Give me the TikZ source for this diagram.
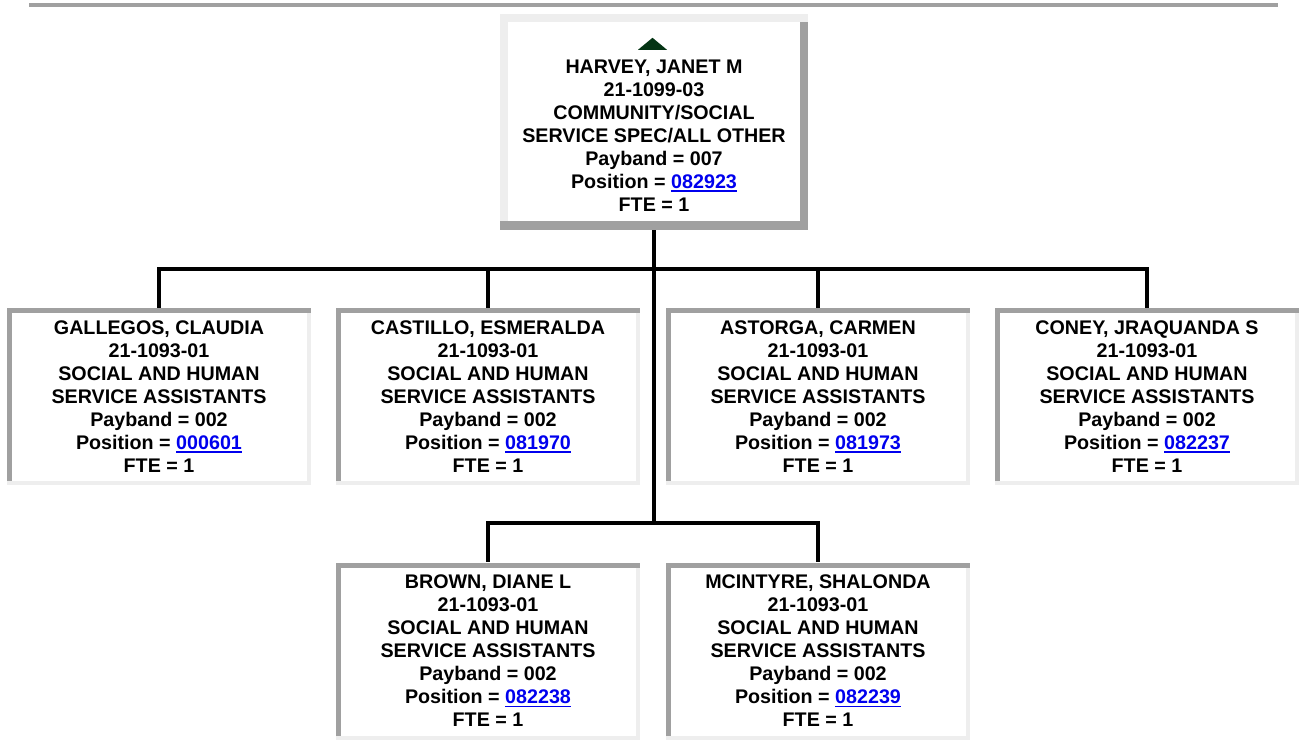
\documentclass[tikz,border=0pt]{standalone}
\usepackage{fontspec}
\setmainfont{Liberation Sans}
\usepackage{tikz}
\usetikzlibrary{calc}
\usepackage{xcolor}
\definecolor{edgedark}{RGB}{160,160,160}
\definecolor{edgelite}{RGB}{238,238,238}
\definecolor{linkblue}{RGB}{0,0,238}
\definecolor{uparrow}{RGB}{4,52,20}

\newcommand\orgfont{\bfseries\fontsize{19.7}{23}\selectfont}
\newsavebox\linkbox
\newcommand\poslink[1]{\sbox\linkbox{\color{linkblue}#1}\textcolor{linkblue}{\rlap{\rule[-3.5pt]{\wd\linkbox}{1.8pt}}\usebox\linkbox}}

\tikzset{
  kidbox/.style={minimum width=304pt, minimum height=177pt, inner sep=0pt, fill=edgelite, align=center, font=\orgfont,
    path picture={
      \fill[edgedark] ([yshift=-5pt]path picture bounding box.north west) rectangle (path picture bounding box.north east);
      \fill[edgedark] ([yshift=4pt]path picture bounding box.south west) rectangle ([xshift=5pt]path picture bounding box.north west);
      \fill[white] ([xshift=5pt,yshift=-5pt]path picture bounding box.north west) rectangle ([xshift=-4pt,yshift=4pt]path picture bounding box.south east);
    }},
  headbox/.style={minimum width=308pt, minimum height=216pt, inner sep=0pt, fill=edgelite, align=center, font=\orgfont,
    path picture={
      \fill[edgedark] ([xshift=-8pt,yshift=-8pt]path picture bounding box.north east) rectangle (path picture bounding box.south east);
      \fill[edgedark] (path picture bounding box.south west) rectangle ([yshift=9pt]path picture bounding box.south east);
      \fill[white] ([xshift=8pt,yshift=-8pt]path picture bounding box.north west) rectangle ([xshift=-8pt,yshift=9pt]path picture bounding box.south east);
    }},
  wire/.style={line width=4pt, black},
}

\begin{document}
\begin{tikzpicture}[x=1pt, y=-1pt]
  \useasboundingbox (0,0) rectangle (1299,741);
  \draw[edgedark, line width=4pt] (29,5) -- (1278,5);

  % supervisor
  \node[headbox] (harvey) at (654,122) {\rule{0pt}{41pt}HARVEY, JANET M\\21-1099-03\\COMMUNITY/SOCIAL\\SERVICE SPEC/ALL OTHER\\Payband = 007\\Position = \poslink{082923}\\FTE = 1};
  \fill[uparrow] ([xshift=-16pt,yshift=-36pt]harvey.north) -- ([xshift=13pt,yshift=-36pt]harvey.north) -- ([xshift=-1.5pt,yshift=-24pt]harvey.north) -- cycle;

  % staff
  \foreach \id/\x/\y/\who/\pos in {gallegos/159/396.5/{GALLEGOS, CLAUDIA}/000601, castillo/488/396.5/{CASTILLO, ESMERALDA}/081970,
      astorga/818/396.5/{ASTORGA, CARMEN}/081973, coney/1147/396.5/{CONEY, JRAQUANDA S}/082237,
      brown/488/651/{BROWN, DIANE L}/082238, mcintyre/818/651/{MCINTYRE, SHALONDA}/082239}
    \node[kidbox] (\id) at (\x,\y) {\who\\21-1093-01\\SOCIAL AND HUMAN\\SERVICE ASSISTANTS\\Payband = 002\\Position = \poslink{\pos}\\FTE = 1};

  % connectors
  \coordinate (busA) at (654,269);
  \coordinate (busB) at (654,523);
  \draw[wire] (harvey.south) -- (busB);
  \foreach \id in {gallegos,castillo,astorga,coney} \draw[wire] (busA) -| (\id.north);
  \foreach \id in {brown,mcintyre} \draw[wire] (busB) -| (\id.north);
\end{tikzpicture}
\end{document}
